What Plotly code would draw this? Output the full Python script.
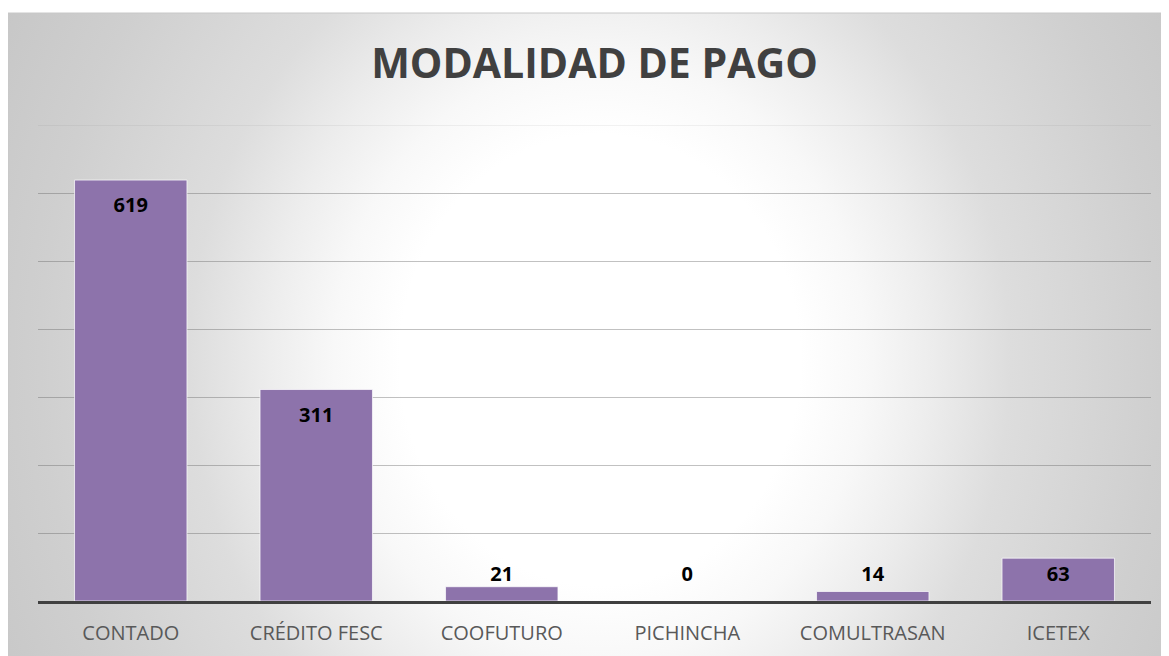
import base64
import plotly.graph_objects as go

# ---- data ----
categories = ["CONTADO", "CRÉDITO FESC", "COOFUTURO", "PICHINCHA", "COMULTRASAN", "ICETEX"]
values = [619, 311, 21, 0, 14, 63]
grid_ticks = [0, 100, 200, 300, 400, 500, 600, 700]
title_text = "MODALIDAD DE PAGO"

# ---- geometry (figure pixels; page body adds an 8px offset) ----
W, H = 1169, 656
OFF = 8
ML, MT = 38 - OFF, 125 - OFF
PLOT_R, PLOT_B = 1151 - OFF, 601 - OFF
MR, MB = W - PLOT_R, H - PLOT_B
PW, PH = W - ML - MR, H - MT - MB
CARD_X0, CARD_Y0, CARD_X1, CARD_Y1 = 8 - OFF, 13 - OFF, 1168 - OFF, 660 - OFF


def px_to_paper_x(px):
    return (px - ML) / PW


def px_to_paper_y(py):
    return (H - MB - py) / PH


# radial gradient background as an SVG image
cw, ch = CARD_X1 - CARD_X0, CARD_Y1 - CARD_Y0
gcx, gcy = 592, 347
svg = f'''<svg xmlns="http://www.w3.org/2000/svg" width="{cw}" height="{ch}" viewBox="0 0 {cw} {ch}" preserveAspectRatio="none">
<defs><radialGradient id="g" gradientUnits="userSpaceOnUse" cx="{gcx}" cy="{gcy}" r="700"
 gradientTransform="translate({gcx} {gcy}) scale(1 1.125) translate({-gcx} {-gcy})">
<stop offset="0" stop-color="#ffffff"/>
<stop offset="0.286" stop-color="#ffffff"/>
<stop offset="0.38" stop-color="#f8f8f8"/>
<stop offset="0.471" stop-color="#ededed"/>
<stop offset="0.586" stop-color="#dddddd"/>
<stop offset="0.8" stop-color="#cfcfcf"/>
<stop offset="1" stop-color="#c5c5c5"/>
</radialGradient></defs>
<rect x="0" y="0" width="{cw}" height="{ch}" fill="url(#g)"/>
</svg>'''
svg_uri = "data:image/svg+xml;base64," + base64.b64encode(svg.encode()).decode()

# label positions derived from values (inside end, clamped above small bars)
label_y = [max(v - 40, 37) for v in values]
label_text = [f"<b>{v}</b>" for v in values]

fig = go.Figure()
fig.add_trace(go.Bar(
    x=categories, y=values,
    marker=dict(color="#8D73AB", line=dict(color="rgba(255,255,255,0.7)", width=1)),
    hoverinfo="x+y", showlegend=False,
))
fig.add_trace(go.Scatter(
    x=categories, y=label_y, mode="text", text=label_text,
    textfont=dict(family="Open Sans", size=20, color="#000000"),
    textposition="middle center", hoverinfo="skip", showlegend=False,
))

fig.update_layout(
    width=W, height=H,
    margin=dict(l=ML, r=MR, t=MT, b=MB, pad=0),
    paper_bgcolor="#ffffff",
    plot_bgcolor="rgba(0,0,0,0)",
    bargap=0.394,
    font=dict(family="Open Sans", color="#595959"),
    title=dict(
        text=f"<b>{title_text}</b>",
        font=dict(family="Open Sans", size=41, color="#404040"),
        x=0.5, xref="paper", xanchor="center",
        y=1 - (64 - OFF) / H, yref="container", yanchor="middle",
    ),
    xaxis=dict(
        showgrid=False, showline=True, linecolor="#404040", linewidth=3,
        ticks="", tickfont=dict(family="Open Sans", size=20, color="#595959"),
        ticklabelstandoff=12, zeroline=False,
    ),
    yaxis=dict(
        range=[0, 700], tickvals=grid_ticks, showticklabels=False,
        showgrid=True, gridcolor="rgba(100,100,100,0.4)", gridwidth=1,
        zeroline=False, showline=False, ticks="",
    ),
    images=[dict(
        source=svg_uri, xref="paper", yref="paper",
        x=px_to_paper_x(CARD_X0), y=px_to_paper_y(CARD_Y0),
        sizex=cw / PW, sizey=ch / PH,
        xanchor="left", yanchor="top", sizing="stretch", layer="below",
    )],
    shapes=[
        dict(
            type="rect", xref="paper", yref="paper",
            x0=px_to_paper_x(CARD_X0), x1=px_to_paper_x(CARD_X1),
            y0=px_to_paper_y(CARD_Y1), y1=px_to_paper_y(CARD_Y0),
            line=dict(color="#c8c8c8", width=1), fillcolor="rgba(0,0,0,0)", layer="below",
        ),
        dict(
            type="line", xref="paper", yref="y", x0=0, x1=1,
            y0=grid_ticks[-1], y1=grid_ticks[-1],
            line=dict(color="rgba(110,110,110,0.18)", width=1), layer="below",
        ),
    ],
)

fig.write_html("out.html")
